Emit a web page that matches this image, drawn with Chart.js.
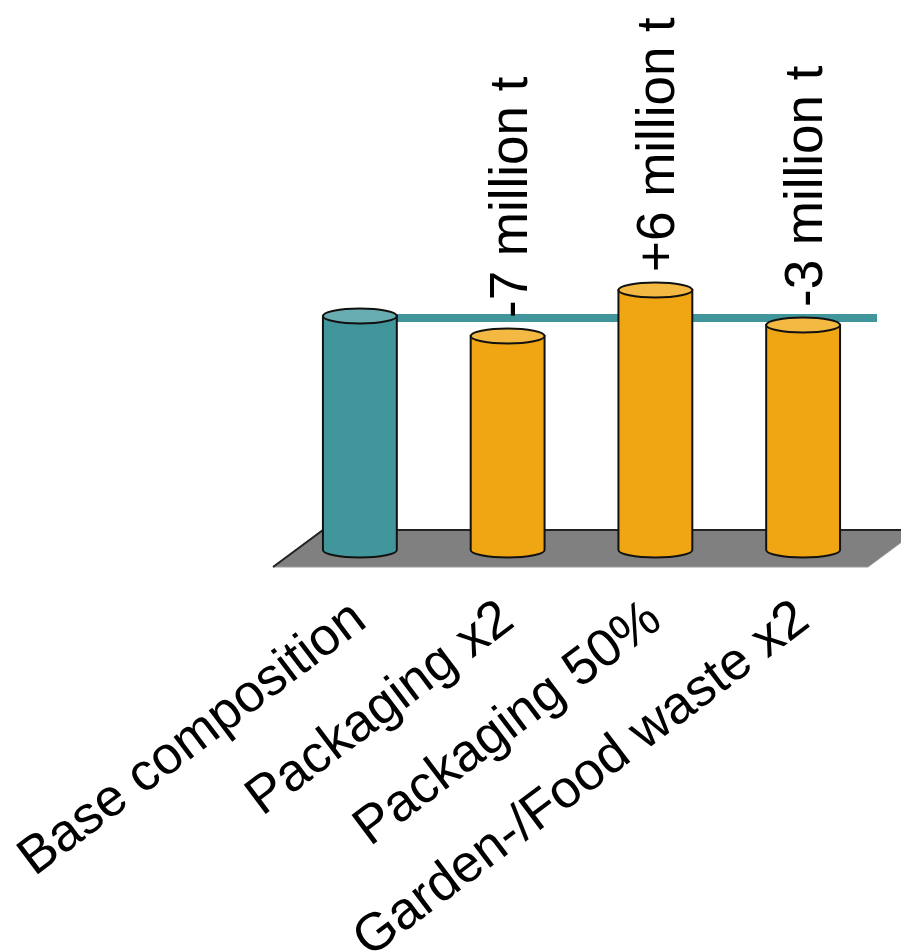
<!DOCTYPE html>
<html><head><meta charset="utf-8">
<script src="https://cdn.jsdelivr.net/npm/chart.js@4.4.1/dist/chart.umd.min.js"></script>
<style>html,body{margin:0;padding:0;background:#fff;overflow:hidden;}</style>
</head><body>
<canvas id="c" width="901" height="952"></canvas>
<script>
// ---- data ----
const categories = ['Base composition', 'Packaging x2', 'Packaging 50%', 'Garden-/Food waste x2'];
const values = [23.4, 21.4, 26.0, 22.5];           // bar heights (relative units)
const changeLabels = ['', '-7 million t', '+6 million t', '-3 million t'];
const yMax = 55;

// ---- styles ----
const bodyColors = ['#41969B', '#F0A513', '#F0A513', '#F0A513'];
const topColors = ['#68ADB1', '#F4B942', '#F4B942', '#F4B942'];
const FONT = '"Liberation Sans", Arial, Helvetica, sans-serif';

function cylinder(ctx, x, top, base, w, body, topc) {
  const rx = w / 2, ry = 7.5;
  ctx.save();
  ctx.lineWidth = 2;
  ctx.strokeStyle = '#111';
  ctx.beginPath();
  ctx.moveTo(x - rx, top);
  ctx.lineTo(x - rx, base);
  ctx.ellipse(x, base, rx, ry, 0, Math.PI, 0, true);
  ctx.lineTo(x + rx, top);
  ctx.closePath();
  ctx.fillStyle = body;
  ctx.fill();
  ctx.stroke();
  ctx.beginPath();
  ctx.ellipse(x, top, rx, ry, 0, 0, Math.PI * 2);
  ctx.fillStyle = topc;
  ctx.fill();
  ctx.stroke();
  ctx.restore();
}

const scenePlugin = {
  id: 'scene',
  beforeDatasetsDraw(chart) {
    const {ctx, chartArea: a} = chart;
    const meta = chart.getDatasetMeta(0);
    const ys = chart.scales.y;
    // floor
    const fy = a.bottom + 17, by = a.bottom - 20;
    ctx.save();
    ctx.beginPath();
    ctx.moveTo(a.left - 13, fy);
    ctx.lineTo(a.right - 9, fy);
    ctx.lineTo(a.right + 41, by);
    ctx.lineTo(a.left + 37, by);
    ctx.closePath();
    ctx.fillStyle = '#808080';
    ctx.fill();
    ctx.strokeStyle = '#9a9a9a';
    ctx.lineWidth = 1;
    ctx.stroke();
    ctx.beginPath();
    ctx.moveTo(a.left - 13, fy);
    ctx.lineTo(a.left + 37, by);
    ctx.lineTo(a.right + 41, by);
    ctx.strokeStyle = '#222';
    ctx.lineWidth = 2;
    ctx.stroke();
    // reference line at base value
    const b0 = meta.data[0];
    const ly = ys.getPixelForValue(values[0]) + 2;
    ctx.beginPath();
    ctx.moveTo(b0.x + b0.width / 2, ly);
    ctx.lineTo(a.right, ly);
    ctx.strokeStyle = bodyColors[0];
    ctx.lineWidth = 8;
    ctx.stroke();
    ctx.restore();
  },
  afterDatasetsDraw(chart) {
    const {ctx} = chart;
    const meta = chart.getDatasetMeta(0);
    meta.data.forEach((bar, i) => {
      cylinder(ctx, bar.x, bar.y, bar.base, bar.width, bodyColors[i], topColors[i]);
    });
    ctx.save();
    ctx.fillStyle = '#000';
    ctx.font = '53px ' + FONT;
    ctx.textAlign = 'left';
    ctx.textBaseline = 'alphabetic';
    meta.data.forEach((bar, i) => {
      if (!changeLabels[i]) return;
      ctx.save();
      ctx.translate(bar.x + 19, bar.y - 18);
      ctx.rotate(-Math.PI / 2);
      ctx.fillText(changeLabels[i], 0, 0);
      ctx.restore();
    });
    ctx.restore();
  }
};

new Chart(document.getElementById('c'), {
  type: 'bar',
  data: {
    labels: categories,
    datasets: [{
      data: values,
      backgroundColor: 'rgba(0,0,0,0)',
      borderWidth: 0,
      barPercentage: 0.5,
      categoryPercentage: 1
    }]
  },
  options: {
    responsive: false,
    animation: false,
    devicePixelRatio: 1,
    layout: {padding: {left: 286, right: 24, top: 0, bottom: 0}},
    plugins: {legend: {display: false}, tooltip: {enabled: false}},
    scales: {
      x: {
        grid: {display: false, drawTicks: false},
        border: {display: false},
        ticks: {
          autoSkip: false, minRotation: 37, maxRotation: 37, padding: 38,
          color: '#000', font: {family: FONT, size: 53}
        },
        afterFit: s => { s.height = 402; s.paddingLeft = 0; s.paddingRight = 0; }
      },
      y: {display: false, min: 0, max: yMax}
    }
  },
  plugins: [scenePlugin]
});
</script>
</body></html>
